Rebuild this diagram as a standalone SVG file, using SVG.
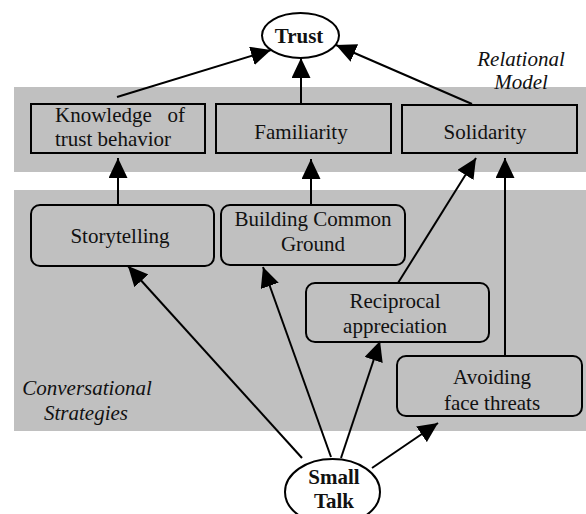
<svg xmlns="http://www.w3.org/2000/svg" width="586" height="514" viewBox="0 0 586 514">
<style>
.band{fill:#c0c0c0;stroke:none}
.box{fill:none;stroke:#000;stroke-width:2}
.ell{fill:#fff;stroke:#000;stroke-width:2}
.t{font-family:"Liberation Serif","Times New Roman",serif;font-size:21px;fill:#111}
.c{text-anchor:middle}
.b{font-weight:bold}
.i{font-style:italic}
.edge{stroke:#000;stroke-width:2;fill:none;marker-end:url(#ah)}
</style>
<defs>
<marker id="ah" viewBox="0 0 20 19" markerWidth="20" markerHeight="19" refX="20" refY="9.5" orient="auto" markerUnits="userSpaceOnUse">
<path d="M0,0 L20,9.5 L0,19 Z" fill="#000"/>
</marker>
</defs>
<g id="bands">
<rect class="band" x="14" y="87" width="572" height="85"/>
<rect class="band" x="14" y="190" width="572" height="241"/>
</g>
<g id="labels">
<text class="t i c" x="521" y="66">Relational</text>
<text class="t i c" x="521" y="89">Model</text>
<text class="t i c" x="87" y="395">Conversational</text>
<text class="t i c" x="86" y="420">Strategies</text>
</g>
<g id="connectors">
<line class="edge" x1="117" y1="97" x2="271" y2="50"/>
<line class="edge" x1="301" y1="104" x2="301" y2="58"/>
<line class="edge" x1="472" y1="104" x2="336" y2="45"/>
<line class="edge" x1="118" y1="205" x2="118" y2="158"/>
<line class="edge" x1="311" y1="205" x2="311" y2="159"/>
<line class="edge" x1="398" y1="283" x2="476" y2="158"/>
<line class="edge" x1="505" y1="356" x2="505" y2="158"/>
<line class="edge" x1="302" y1="458" x2="128" y2="266"/>
<line class="edge" x1="331" y1="457" x2="263" y2="267"/>
<line class="edge" x1="341" y1="458" x2="380" y2="341"/>
<line class="edge" x1="372" y1="468" x2="438" y2="423"/>
</g>
<g id="trust">
<ellipse class="ell" cx="300.5" cy="35.5" rx="38.5" ry="22.5"/>
<text class="t b c" x="299" y="43">Trust</text>
</g>
<g id="knowledge">
<rect class="box" x="31" y="104" width="174" height="49"/>
<text class="t" x="55" y="122">Knowledge</text>
<text class="t" x="185" y="122" text-anchor="end">of</text>
<text class="t" x="55" y="146">trust behavior</text>
</g>
<g id="familiarity">
<rect class="box" x="216" y="104" width="175" height="49"/>
<text class="t c" x="301" y="139">Familiarity</text>
</g>
<g id="solidarity">
<rect class="box" x="402" y="105" width="175" height="48"/>
<text class="t c" x="485" y="139">Solidarity</text>
</g>
<g id="storytelling">
<rect class="box" x="31" y="205" width="183" height="61" rx="9"/>
<text class="t c" x="120" y="243">Storytelling</text>
</g>
<g id="common-ground">
<rect class="box" x="221" y="205" width="184" height="60" rx="9"/>
<text class="t c" x="313" y="226">Building Common</text>
<text class="t c" x="313" y="251">Ground</text>
</g>
<g id="reciprocal">
<rect class="box" x="306" y="283" width="183" height="59" rx="9"/>
<text class="t c" x="395" y="308">Reciprocal</text>
<text class="t c" x="395" y="333">appreciation</text>
</g>
<g id="avoiding">
<rect class="box" x="397" y="356" width="185" height="60" rx="9"/>
<text class="t c" x="492" y="384">Avoiding</text>
<text class="t c" x="492" y="410">face threats</text>
</g>
<g id="small-talk">
<ellipse class="ell" cx="332.5" cy="492" rx="47.5" ry="33"/>
<text class="t b c" x="334" y="484">Small</text>
<text class="t b c" x="334" y="508">Talk</text>
</g>
</svg>
